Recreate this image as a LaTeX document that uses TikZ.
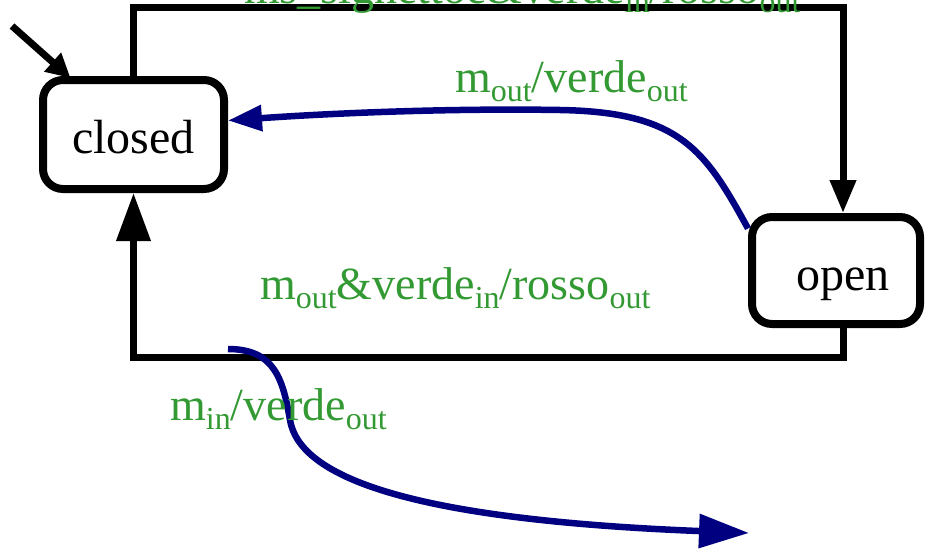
\documentclass[tikz,border=0pt]{standalone}
\usepackage{fontspec}
\setmainfont{Liberation Serif}
\usetikzlibrary{arrows.meta}
\definecolor{lblgreen}{RGB}{51,153,51}
\definecolor{navyblue}{RGB}{0,0,128}
\newcommand{\sbs}[1]{\raisebox{-9pt}{\fontsize{32}{32}\selectfont #1}}
\tikzset{
 statebox/.style={draw=black, line width=8pt, rounded corners=20pt, fill=white, inner sep=0pt},
 statetxt/.style={font=\fontsize{48}{56}\selectfont, inner sep=0pt, anchor=base},
 blackline/.style={draw=black, line width=7pt},
 blueline/.style={draw=navyblue, line width=6.5pt},
 lbl/.style={text=lblgreen, font=\fontsize{46}{54}\selectfont, inner sep=0pt, anchor=base west},
}
\begin{document}
\begin{tikzpicture}[x=1pt,y=-1pt]
\useasboundingbox (0,0) rectangle (926,549);
\node[statebox, minimum width=181pt, minimum height=109pt] (closed) at (133.5,134.5) {};
\node[statebox, minimum width=168pt, minimum height=107pt] (open) at (836,270.5) {};
\node[statetxt] (closedtxt) at (133.5,153) {closed};
\node[statetxt] (opentxt) at (843,290) {open};
% initial arrow
\coordinate (init) at (12,26);
\draw[blackline, -{Triangle[length=24pt,width=24pt]}] (init) -- ([shift={(-63pt,-2pt)}]closed.north);
% closed -> open (top)
\draw[blackline, -{Triangle[length=33pt,width=25pt]}] (closed.north) -- ++(0,-69) -| ([xshift=7pt]open.north);
% open -> closed (bottom)
\draw[blackline, -{Triangle[length=48pt,width=33pt]}] ([xshift=7pt]open.south) -- ++(0,29) -| (closed.south);
% open -> closed (blue)
\draw[blueline, -{Triangle[length=34pt,width=25pt]}] ([yshift=42pt]open.west) .. controls (705,150) and (680,112) .. (560,110) .. controls (440,108) and (320,114) .. ([yshift=14pt]closed.east);
% blue exit
\coordinate (s2) at (228,349);
\coordinate (e2) at (749,533);
\draw[blueline, -{Triangle[length=50pt,width=33pt]}] (s2) .. controls (275,349) and (283,380) .. (290,420) .. controls (300,480) and (420,520) .. (e2);
% labels
\node[lbl] (ltop) at (244,3) {ms\_signettoe\&verde\sbs{in}/rosso\sbs{out}};
\node[lbl] (l1) at (455,92) {m\sbs{out}/verde\sbs{out}};
\node[lbl] (l2) at (260,299) {m\sbs{out}\&verde\sbs{in}/rosso\sbs{out}};
\node[lbl] (l3) at (170,420) {m\sbs{in}/verde\sbs{out}};
\end{tikzpicture}
\end{document}
